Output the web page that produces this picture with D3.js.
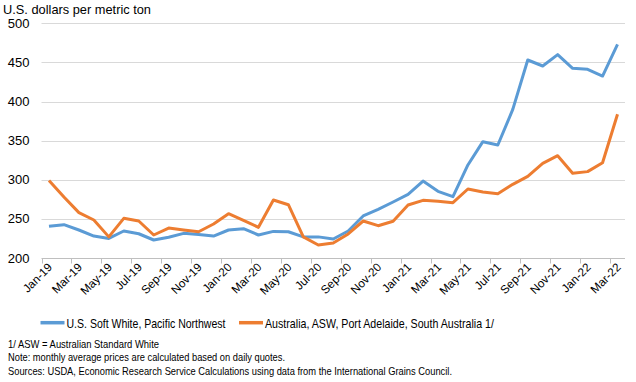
<!DOCTYPE html>
<html><head><meta charset="utf-8">
<script src="https://cdn.jsdelivr.net/npm/d3@7"></script>
<style>body{margin:0;background:#fff;}svg{display:block;font-family:"Liberation Sans",Arial,sans-serif;}</style>
</head><body>
<script>
const months = ["Jan-19","Feb-19","Mar-19","Apr-19","May-19","Jun-19","Jul-19","Aug-19","Sep-19","Oct-19","Nov-19","Dec-19",
"Jan-20","Feb-20","Mar-20","Apr-20","May-20","Jun-20","Jul-20","Aug-20","Sep-20","Oct-20","Nov-20","Dec-20",
"Jan-21","Feb-21","Mar-21","Apr-21","May-21","Jun-21","Jul-21","Aug-21","Sep-21","Oct-21","Nov-21","Dec-21",
"Jan-22","Feb-22","Mar-22"];
const usSoftWhite = [240.5,242.6,235.8,228,225,234.5,231,223,226.5,231.5,230,228,
235.8,237.5,229.4,234,233.6,227,227,224.3,234.5,253.7,262.2,271.6,
281.4,298.4,285.2,278.4,318.9,348.7,344.4,390,453.1,445.4,459.9,442.5,
441.2,432.6,473.2];
const australiaASW = [299,278,258,248.6,227,250.7,247.3,229.4,238.3,235.8,233.6,243.5,
256.7,248.2,239.2,274.1,268.1,227,216.6,219.2,230.7,247.3,241.3,246.9,
267.7,273.7,272.5,270.7,288.2,284.4,282.2,294.2,304.4,321,330.8,308.3,
310.4,321.8,383.7];
const yTicks = [200,250,300,350,400,450,500];
const seriesNames = ["U.S. Soft White, Pacific Northwest","Australia, ASW, Port Adelaide, South Australia 1/"];
const colors = ["#5B9BD5","#ED7D31"];
const notes = ["1/ ASW = Australian Standard White",
"Note: monthly average prices are calculated based on daily quotes.",
"Sources: USDA, Economic Research Service Calculations using data from the International Grains Council."];

const W=636,H=382;
const svg=d3.select("body").append("svg").attr("width",W).attr("height",H);
const pLeft=41.5,pRight=625,pTop=23.3,pBottom=258;
const x=d3.scaleBand().domain(months).range([pLeft,pRight]);
const y=d3.scaleLinear().domain([200,500]).range([pBottom,pTop]);

// gridlines
svg.append("g").selectAll("line").data(yTicks.filter(d=>d>200)).join("line")
 .attr("x1",pLeft).attr("x2",pRight).attr("y1",d=>Math.round(y(d))+0.5).attr("y2",d=>Math.round(y(d))+0.5)
 .attr("stroke","#d9d9d9").attr("stroke-width",1);

// y labels
svg.append("g").selectAll("text").data(yTicks).join("text")
 .attr("x",29.5).attr("y",d=>y(d)+4.5).attr("text-anchor","end").attr("font-size",13).attr("fill","#000").text(d=>d);

// x axis
const by=Math.round(pBottom)+0.5;
svg.append("line").attr("x1",pLeft).attr("x2",pRight).attr("y1",by).attr("y2",by).attr("stroke","#bfbfbf");
const tickMonths=months.filter((d,i)=>i%2===0);
svg.append("g").selectAll("line").data(tickMonths).join("line")
 .attr("x1",d=>Math.round(x(d))+0.5).attr("x2",d=>Math.round(x(d))+0.5).attr("y1",by).attr("y2",by+5)
 .attr("stroke","#bfbfbf");
svg.append("g").selectAll("text").data(tickMonths).join("text")
 .attr("transform",d=>`translate(${x(d)+x.bandwidth()/2+4},${pBottom+10}) rotate(-45)`)
 .attr("text-anchor","end").attr("font-size",11.7).attr("fill","#000").text(d=>d);

// lines
const line=d3.line().x((d,i)=>x(months[i])+x.bandwidth()/2).y(d=>y(d));
[usSoftWhite,australiaASW].forEach((s,k)=>{
 svg.append("path").datum(s).attr("d",line).attr("fill","none").attr("stroke",colors[k])
  .attr("stroke-width",3).attr("stroke-linejoin","round");
});

// title
svg.append("text").attr("x",3).attr("y",14).attr("font-size",13).attr("fill","#000")
 .attr("textLength",148).attr("lengthAdjust","spacingAndGlyphs").text("U.S. dollars per metric ton");

// legend
const legX=[40.5,239];
const legLen=[159,229];
seriesNames.forEach((n,k)=>{
 svg.append("line").attr("x1",legX[k]).attr("x2",legX[k]+24).attr("y1",322.7).attr("y2",322.7)
  .attr("stroke",colors[k]).attr("stroke-width",3.5);
 svg.append("text").attr("x",legX[k]+26).attr("y",327.5).attr("font-size",13).attr("fill","#000")
  .attr("textLength",legLen[k]).attr("lengthAdjust","spacingAndGlyphs").text(n);
});

// notes
const noteLen=[151,277,444];
svg.append("g").selectAll("text").data(notes).join("text")
 .attr("x",8).attr("y",(d,i)=>347.5+i*13.5).attr("font-size",10.5).attr("fill","#000")
 .attr("textLength",(d,i)=>noteLen[i]).attr("lengthAdjust","spacingAndGlyphs").text(d=>d);
</script>
</body></html>
